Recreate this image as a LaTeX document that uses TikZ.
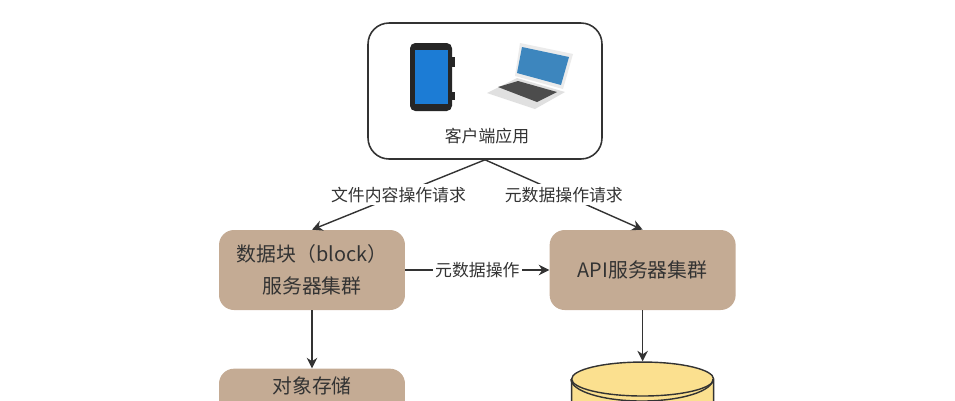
\documentclass[tikz,border=0pt]{standalone}
\usepackage{fontspec}
\setmainfont{Noto Sans CJK SC}
\usepackage{xcolor}
\usetikzlibrary{positioning}
\usetikzlibrary{shapes.geometric}
\usetikzlibrary{arrows.meta}
\usetikzlibrary{calc}
\definecolor{boxtan}{HTML}{C4AB94}
\definecolor{dbyellow}{HTML}{FBE08F}
\definecolor{linegray}{HTML}{333333}
\definecolor{screenblue}{HTML}{1C7CD5}
\definecolor{laptopblue}{HTML}{3D86BE}

\begin{document}
\begin{tikzpicture}[
  x=0.02cm, y=-0.02cm,
  font=\fontsize{9.6pt}{14pt}\selectfont,
  text=linegray,
  box/.style={fill=boxtan, rounded corners=0.3cm, align=center, minimum width=3.72cm, minimum height=1.6cm, font=\fontsize{11.3pt}{18pt}\selectfont},
  clientbox/.style={draw=linegray, line width=0.9pt, fill=white, rounded corners=0.42cm, minimum width=4.68cm, minimum height=2.72cm},
  dbstore/.style={cylinder, shape border rotate=90, draw=linegray, line width=0.8pt, aspect=2.9, cylinder uses custom fill, cylinder body fill=dbyellow, cylinder end fill=dbyellow, minimum width=2.84cm, minimum height=2cm},
  arrow/.style={-{Stealth[length=6pt,width=6pt]}, draw=linegray, line width=0.8pt},
  tag/.style={fill=white, inner sep=1.5pt}
]
\clip (0,0) rectangle (955,400);

% Boxes
\node[clientbox] (client) at (485,91) {};
\node[box] (block) at (312,270) {数据块（block）\\服务器集群};
\node[box, right=2.88cm of block] (api) {API服务器集群};
\node[box, below=1.16cm of block] (objstore) {};
\node[font=\fontsize{11.3pt}{18pt}\selectfont] (objtxt) at (312,386) {对象存储};
\node[dbstore, below=1.02cm of api] (db) {};
\node (clienttxt) at (487,136) {客户端应用};

% Rim of the database
\draw[draw=linegray, line width=0.8pt] (db.before top) arc[start angle=180, end angle=360, x radius=1.42cm, y radius=0.44cm];

% Tablet
\fill[black!85, rounded corners=3pt] (410,43) rectangle (452,111);
\fill[black!85] (451,57) rectangle (455,67);
\fill[black!85] (451,92) rectangle (455,100);
\fill[screenblue] (415,50) rectangle (448,104);

% Laptop
\fill[black!12] (487,93) -- (517,78) -- (565,92) -- (535,109) -- cycle;
\fill[black!70] (498,87) -- (518,81) -- (557,92) -- (537,102) -- cycle;
\fill[black!8] (520,43) -- (573,54) -- (563,89) -- (515,76) -- cycle;
\fill[laptopblue] (522,47) -- (569,57) -- (561,85) -- (517,73) -- cycle;

% Connectors
\coordinate (fork) at (client.south);
\draw[arrow] (fork) -- node[tag, pos=0.5] (reqfile) {文件内容操作请求} (block.north);
\draw[arrow] (fork) -- node[tag, pos=0.5] (reqmeta) {元数据操作请求} (api.north);
\draw[arrow] (block) -- node[tag] (metaop) {元数据操作} (api);
\draw[arrow] (block) -- (objstore);
\draw[arrow] (api) -- (db.north);

\end{tikzpicture}
\end{document}
